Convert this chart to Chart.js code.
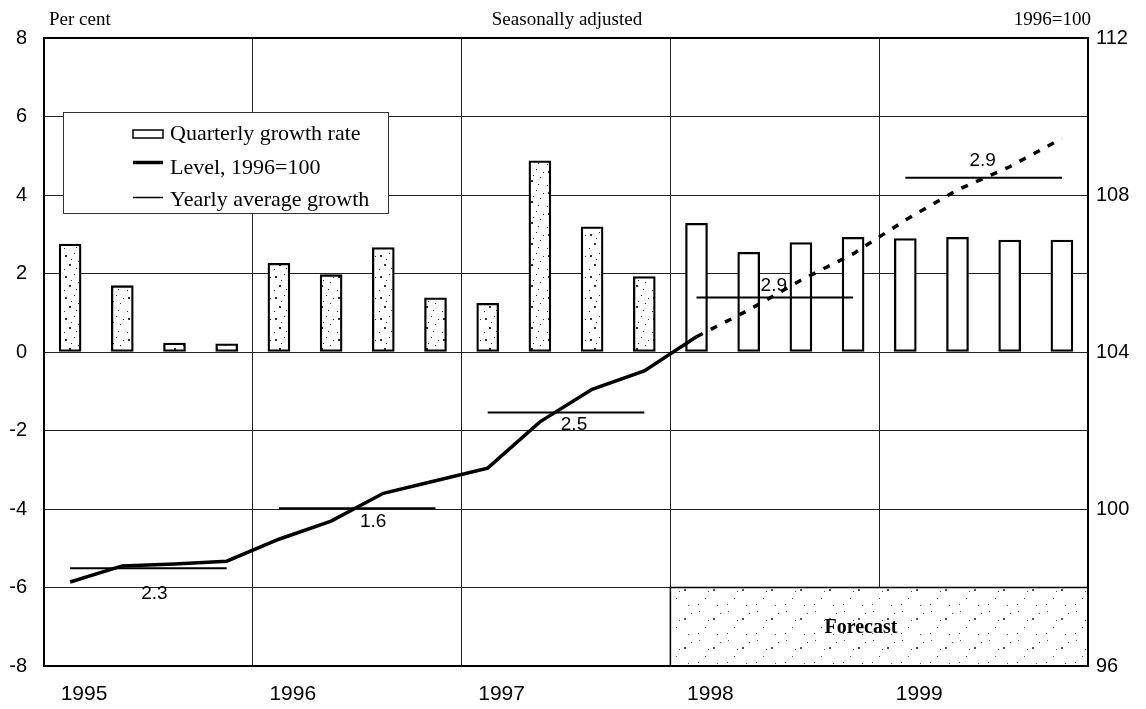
<!DOCTYPE html>
<html>
<head>
<meta charset="utf-8">
<script src="https://cdn.jsdelivr.net/npm/chart.js@4/dist/chart.umd.min.js"></script>
<style>
  html, body { margin: 0; padding: 0; background: #fff; }
  #wrap { position: relative; width: 1146px; height: 709px; }
</style>
</head>
<body>
<div id="wrap"><canvas id="chart"></canvas></div>
<script>
// GDP chart: quarterly growth (left axis) and level index (right axis)

const yearLabels = ["1995", "1996", "1997", "1998", "1999"];
const quarterGrowth = [2.75, 1.69, 0.23, 0.21, 2.26, 1.97, 2.66, 1.38, 1.24, 4.87, 3.19, 1.92, 3.28, 2.54, 2.79, 2.92, 2.89, 2.92, 2.85, 2.85];
const levelIndex = [98.14, 98.55, 98.60, 98.67, 99.23, 99.69, 100.40, 100.72, 101.04, 102.22, 103.05, 103.52, 104.39, 105.07, 105.83, 106.50, 107.36, 108.13, 108.72, 109.44];
const yearAvgLevel = [98.49, 100.02, 102.46, 105.39, 108.44];
const yearAvgGrowth = ["2.3", "1.6", "2.5", "2.9", "2.9"];
const growthTicks = [-8, -6, -4, -2, 0, 2, 4, 6, 8];
const levelTicks = [96, 100, 104, 108, 112];
const forecastStart = 12; // first forecast quarter (1998 Q1 onwards dashed / white)

const SANS = "'Liberation Sans', Arial, sans-serif";
const SERIF = "'Liberation Serif', 'Times New Roman', serif";

// small speckle texture, dots as [x, y, size]
function makeStipple(dots, size, color) {
  const c = document.createElement("canvas");
  c.width = size;
  c.height = size;
  const g = c.getContext("2d");
  g.fillStyle = "#fff";
  g.fillRect(0, 0, size, size);
  g.fillStyle = color;
  dots.forEach(([x, y, s]) => g.fillRect(x, y, s, s));
  return g.createPattern(c, "repeat");
}

const barStipple = makeStipple([[2, 3, 2], [11, 1, 1], [15, 9, 1], [6, 12, 2], [13, 16, 1], [1, 17, 1], [8, 7, 1], [18, 4, 1]], 21, "#333");
const boxStipple = makeStipple([[3, 2, 1], [17, 9, 2], [9, 18, 1], [24, 4, 1], [2, 24, 1], [21, 25, 1], [12, 11, 1]], 29, "#555");

// label offsets (px) for the yearly average labels, relative to line centre
const avgLabelShift = [[6, 25], [16, 14], [8, 12], [-1, -12], [-1, -17]];

const frameAndBoxes = {
  id: "frameAndBoxes",
  beforeDatasetsDraw(chart) {
    const { ctx, scales } = chart;
    const x0 = scales.x.getPixelForValue(forecastStart);
    const x1 = scales.x.getPixelForValue(20);
    const yTop = scales.y.getPixelForValue(-6);
    const yBot = scales.y.getPixelForValue(-8);
    ctx.save();
    ctx.fillStyle = boxStipple;
    ctx.fillRect(x0, yTop, x1 - x0, yBot - yTop);
    ctx.strokeStyle = "#000";
    ctx.lineWidth = 1.5;
    ctx.strokeRect(x0, yTop, x1 - x0, yBot - yTop);
    ctx.fillStyle = "#000";
    ctx.font = "bold 20px " + SERIF;
    ctx.textAlign = "center";
    ctx.textBaseline = "middle";
    ctx.fillText("Forecast", scales.x.getPixelForValue(15.65), (yTop + yBot) / 2 + 1);
    ctx.restore();
  },
  afterDatasetsDraw(chart) {
    const { ctx, scales, chartArea } = chart;
    ctx.save();
    // yearly average labels
    ctx.font = "19px " + SANS;
    ctx.fillStyle = "#000";
    ctx.textAlign = "center";
    ctx.textBaseline = "middle";
    yearAvgGrowth.forEach((t, k) => {
      const cx = scales.x.getPixelForValue(4 * k + 2);
      const cy = scales.y1.getPixelForValue(yearAvgLevel[k]);
      ctx.fillText(t, cx + avgLabelShift[k][0], cy + avgLabelShift[k][1]);
    });

    // legend box
    const lx = 63, ly = 112, lw = 325, lh = 101;
    ctx.fillStyle = "#fff";
    ctx.fillRect(lx, ly, lw, lh);
    ctx.strokeStyle = "#333";
    ctx.lineWidth = 1;
    ctx.strokeRect(lx + 0.5, ly + 0.5, lw, lh);
    const ds = chart.data.datasets;
    ctx.font = "22px " + SERIF;
    ctx.textAlign = "left";
    ctx.textBaseline = "alphabetic";
    ctx.fillStyle = "#000";
    // bar symbol
    ctx.strokeStyle = "#000";
    ctx.lineWidth = 1.5;
    ctx.strokeRect(133, 130, 30, 8);
    ctx.fillText(ds[0].label, 170, 140);
    // level line symbol
    ctx.lineWidth = 3.5;
    ctx.beginPath();
    ctx.moveTo(133, 162.5);
    ctx.lineTo(163, 162.5);
    ctx.stroke();
    ctx.fillText(ds[1].label, 170, 174);
    // yearly average symbol
    ctx.lineWidth = 1.5;
    ctx.beginPath();
    ctx.moveTo(133, 197.5);
    ctx.lineTo(163, 197.5);
    ctx.stroke();
    ctx.fillText("Yearly average growth", 170, 206);

    // outer frame
    ctx.lineWidth = 2;
    ctx.strokeStyle = "#000";
    ctx.strokeRect(chartArea.left, chartArea.top, chartArea.right - chartArea.left, chartArea.bottom - chartArea.top);

    // header texts
    ctx.font = "19px " + SERIF;
    ctx.textBaseline = "middle";
    ctx.textAlign = "left";
    ctx.fillText("Per cent", 49, 20);
    ctx.textAlign = "center";
    ctx.fillText("Seasonally adjusted", 567, 20);
    ctx.textAlign = "right";
    ctx.fillText("1996=100", 1091, 20);
    ctx.restore();
  }
};

const quarterPos = quarterGrowth.map((_, i) => i + 0.5);

const datasets = [
  {
    type: "bar",
    label: "Quarterly growth rate",
    data: quarterGrowth.map((v, i) => ({ x: quarterPos[i], y: v })),
    yAxisID: "y",
    backgroundColor: quarterGrowth.map((_, i) => (i < forecastStart ? barStipple : "#fff")),
    borderColor: "#000",
    borderWidth: 2.3,
    borderSkipped: false,
    barThickness: 22,
    order: 3
  },
  {
    type: "line",
    label: "Level, 1996=100",
    data: levelIndex.map((v, i) => ({ x: quarterPos[i], y: v })),
    yAxisID: "y1",
    borderColor: "#000",
    borderWidth: 3.5,
    pointRadius: 0,
    tension: 0,
    borderCapStyle: "butt",
    segment: {
      borderDash: (c) => (c.p0DataIndex >= forecastStart ? [7, 9] : undefined)
    },
    order: 1
  }
];

yearAvgLevel.forEach((v, k) => {
  datasets.push({
    type: "line",
    label: "Yearly average growth " + yearLabels[k],
    data: [{ x: quarterPos[4 * k], y: v }, { x: quarterPos[4 * k + 3], y: v }],
    yAxisID: "y1",
    borderColor: "#000",
    borderWidth: 2,
    pointRadius: 0,
    order: 2
  });
});

new Chart(document.getElementById("chart"), {
  type: "bar",
  data: { datasets },
  options: {
    responsive: true,
    maintainAspectRatio: false,
    animation: false,
    layout: { padding: { top: 38, left: 0, right: 0, bottom: 0 } },
    plugins: {
      legend: { display: false },
      tooltip: { enabled: false }
    },
    scales: {
      x: {
        type: "linear",
        min: 0,
        max: 20,
        offset: false,
        afterBuildTicks: (s) => { s.ticks = [0, 4, 8, 12, 16, 20].map((v) => ({ value: v })); },
        afterFit: (s) => { s.height = 43; },
        ticks: {
          autoSkip: false,
          maxRotation: 0,
          labelOffset: 40,
          padding: 16,
          color: "#000",
          font: { family: SANS, size: 21 },
          callback: (v) => yearLabels[v / 4] ?? ""
        },
        grid: { color: "#222", lineWidth: 1, drawTicks: false, offset: false },
        border: { display: false }
      },
      y: {
        position: "left",
        min: -8,
        max: 8,
        afterBuildTicks: (s) => { s.ticks = growthTicks.map((v) => ({ value: v })); },
        afterFit: (s) => { s.width = 44; },
        ticks: {
          padding: 17,
          color: "#000",
          font: { family: SANS, size: 20 }
        },
        grid: { color: "#222", lineWidth: 1, drawTicks: false },
        border: { display: false }
      },
      y1: {
        position: "right",
        min: 96,
        max: 112,
        afterBuildTicks: (s) => { s.ticks = levelTicks.map((v) => ({ value: v })); },
        afterFit: (s) => { s.width = 58; },
        ticks: {
          padding: 8,
          color: "#000",
          font: { family: SANS, size: 20 }
        },
        grid: { drawOnChartArea: false, drawTicks: false },
        border: { display: false }
      }
    }
  },
  plugins: [frameAndBoxes]
});
</script>
</body>
</html>
